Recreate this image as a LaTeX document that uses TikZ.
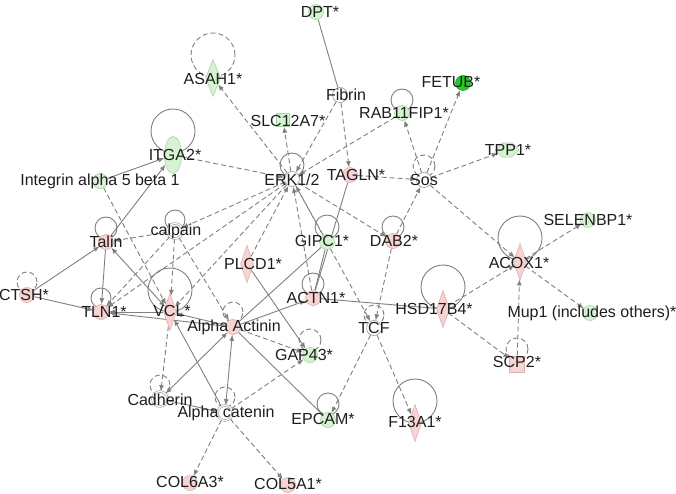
\documentclass[tikz,border=0pt]{standalone}
\usepackage{fontspec}
\setmainfont{Liberation Sans}
\usetikzlibrary{shapes.geometric,shapes.symbols,arrows.meta,backgrounds}
\definecolor{pk}{HTML}{F7D3D3}
\definecolor{pkd}{HTML}{DFAEAE}
\definecolor{gr}{HTML}{D7F2D3}
\definecolor{grd}{HTML}{AAD6A4}
\definecolor{bgr}{HTML}{22CC22}
\definecolor{ln}{HTML}{808080}
\definecolor{wd}{HTML}{9A9A9A}
\definecolor{tx}{HTML}{1E1E1E}
\newcommand\sloop[4]{\draw[#1] ([yshift=#3]#2.center) circle[radius=#4];}
\begin{document}
\begin{tikzpicture}[x=1pt,y=-1pt,
  every node/.style={inner sep=0pt},
  lab/.style={font=\fontsize{16}{18}\selectfont, text=tx},
  cnode/.style={circle, minimum size=15pt, line width=0.6pt},
  pkc/.style={cnode, fill=pk, draw=pkd},
  grc/.style={cnode, fill=gr, draw=grd},
  whc/.style={cnode, fill=white, draw=wd},
  whd/.style={cnode, fill=white, draw=wd, double=white, double distance=1.2pt},
  pkdia/.style={diamond, minimum width=13pt, minimum height=37pt, fill=pk, draw=pkd, line width=0.6pt},
  grdia/.style={diamond, minimum width=15pt, minimum height=37pt, fill=gr, draw=grd, line width=0.6pt},
  sol/.style={draw=ln, line width=0.9pt},
  dsh/.style={draw=ln, line width=0.9pt, dash pattern=on 5pt off 3pt},
  arr/.style={-{Latex[length=6pt,width=5pt]}},
  barr/.style={{Latex[length=6pt,width=5pt]}-{Latex[length=6pt,width=5pt]}}
]
\useasboundingbox (0,0) rectangle (676,494);

% ---- shapes ----
\node[grc] (dpt) at (316,12) {};
\node[grdia] (asah) at (213,78) {};
\node[whc] (fibrin) at (340,95) {};
\node[cnode, fill=bgr, draw=bgr!80!black] (fetub) at (463,83) {};
\node[grc] (rab) at (402,113) {};
\node[rectangle, minimum size=13pt, fill=gr, draw=grd, line width=0.6pt] (slc) at (283,120) {};
\node[signal, signal to=east and west, minimum width=24pt, minimum height=14pt, fill=gr, draw=grd, line width=0.6pt] (tpp) at (507,150) {};
\node[ellipse, minimum width=17pt, minimum height=37pt, fill=gr, draw=grd, line width=0.6pt] (itga) at (173,155) {};
\node[grc] (integ) at (100,181) {};
\node[whc] (erk) at (292,179) {};
\node[pkc] (tagln) at (350,175) {};
\node[whc] (sos) at (424,180) {};
\node[whd] (calpain) at (175,231) {};
\node[pkc] (talin) at (106,242) {};
\node[grc] (gipc) at (327,242) {};
\node[pkc] (dab) at (393,241) {};
\node[pkdia] (plcd) at (247,264) {};
\node[pkdia] (acox) at (520,262) {};
\node[grc] (selen) at (588,220) {};
\node[pkc] (ctsh) at (27,295) {};
\node[pkc] (tln) at (101,312) {};
\node[pkdia] (vcl) at (170,312) {};
\node[pkc] (actn) at (313,298) {};
\node[pkc] (aact) at (233,327) {};
\node[pkdia] (hsd) at (443,309) {};
\node[grc] (mup) at (590,313) {};
\node[whc] (tcf) at (374,328) {};
\node[grc] (gap) at (310,355) {};
\node[rectangle, minimum width=15pt, minimum height=16pt, fill=pk, draw=pkd, line width=0.6pt] (scp) at (517,364) {};
\node[whd] (cadh) at (160,399) {};
\node[whd] (acat) at (225,413) {};
\node[grc] (epcam) at (328,420) {};
\node[pkdia] (f13) at (415,423) {};
\node[pkc] (col6) at (190,483) {};
\node[pkc] (col5) at (288,485) {};

% ---- connectors and self loops ----
\begin{scope}[on background layer]
\fill[white] (0,0) rectangle (676,494);
% solid
\draw[sol] (dpt) -- (fibrin);
\draw[sol,arr] (integ) -- (itga);
\draw[sol,arr] (talin) -- (itga);
\draw[sol,arr] (ctsh) -- (talin);
\draw[sol,arr] (ctsh) -- (tln);
\draw[sol,arr] (talin) -- (tln);
\draw[sol,barr] (talin) -- (vcl);
\draw[sol,arr] (vcl) -- (tln);
\draw[sol,arr] (aact) -- (tln);
\draw[sol,arr] (aact) -- (vcl);
\draw[sol] (aact) -- (gipc);
\draw[sol,arr] (aact) -- (actn);
\draw[sol] (gipc) -- (actn);
\draw[sol] (tagln) -- (actn);
\draw[sol,arr] (plcd) -- (gap);
\draw[sol] (aact) -- (epcam);
\draw[sol,barr] (aact) -- (acat);
\draw[sol,barr] (aact) -- (cadh);
\draw[sol,arr] (acat) -- (vcl);
\draw[sol,arr] (cadh) -- (acat);
\draw[sol] (actn) -- (hsd);
% dashed
\draw[dsh,arr] (fibrin) -- (erk);
\draw[dsh,arr] (fibrin) -- (tagln);
\draw[dsh,arr] (erk) -- (asah);
\draw[dsh,arr] (erk) -- (slc);
\draw[dsh,arr] (itga) -- (erk);
\draw[dsh,arr] (rab) -- (erk);
\draw[dsh,arr] (tagln) -- (sos);
\draw[dsh,arr] (sos) -- (rab);
\draw[dsh,arr] (sos) -- (fetub);
\draw[dsh,arr] (sos) -- (tpp);
\draw[dsh,arr] (dab) -- (sos);
\draw[dsh,arr] (sos) -- (acox);
\draw[dsh,arr] (erk) -- (dab);
\draw[dsh,arr] (erk) -- (calpain);
\draw[dsh,arr] (erk) -- (tln);
\draw[dsh,arr] (erk) -- (vcl);
\draw[dsh,arr] (plcd) -- (erk);
\draw[dsh,arr] (actn) -- (erk);
\draw[dsh,arr] (gipc) -- (erk);
\draw[dsh,arr] (erk) -- (tcf);
\draw[dsh,arr] (dab) -- (tcf);
\draw[dsh,arr] (tcf) -- (epcam);
\draw[dsh,arr] (tcf) -- (f13);
\draw[dsh,arr] (hsd) -- (acox);
\draw[dsh,arr] (hsd) -- (scp);
\draw[dsh,arr] (scp) -- (acox);
\draw[dsh,arr] (acox) -- (selen);
\draw[dsh,arr] (acox) -- (mup);
\draw[dsh,arr] (acat) -- (col6);
\draw[dsh,arr] (acat) -- (col5);
\draw[dsh,arr] (acat) -- (gap);
\draw[dsh,arr] (aact) -- (gap);
\draw[dsh,arr] (vcl) -- (cadh);
\draw[dsh,arr] (integ) -- (vcl);
\draw[dsh,arr] (calpain) -- (talin);
\draw[dsh,arr] (calpain) -- (tln);
\draw[dsh,arr] (calpain) -- (vcl);
\draw[dsh,arr] (calpain) -- (aact);
% self loops
\sloop{sol}{itga}{24pt}{22pt}
\sloop{sol}{vcl}{22pt}{22pt}
\sloop{sol}{acox}{24pt}{22pt}
\sloop{sol}{hsd}{22pt}{22pt}
\sloop{sol}{f13}{22pt}{22pt}
\sloop{dsh}{asah}{23pt}{22pt}
\sloop{sol}{rab}{13pt}{11pt}
\sloop{sol}{erk}{14pt}{12pt}
\sloop{sol}{calpain}{11pt}{10pt}
\sloop{sol}{talin}{14pt}{11pt}
\sloop{sol}{tln}{14pt}{10pt}
\sloop{sol}{gipc}{15pt}{12pt}
\sloop{sol}{dab}{14pt}{11pt}
\sloop{sol}{actn}{14pt}{11pt}
\sloop{sol}{epcam}{16pt}{11pt}
\sloop{dsh}{sos}{14pt}{11pt}
\sloop{dsh}{ctsh}{13pt}{10pt}
\sloop{dsh}{aact}{15pt}{10pt}
\sloop{dsh}{tcf}{13pt}{10pt}
\sloop{dsh}{gap}{15pt}{11pt}
\sloop{dsh}{scp}{15pt}{11pt}
\sloop{dsh}{cadh}{14pt}{10pt}
\sloop{dsh}{acat}{16pt}{10pt}
\end{scope}

% ---- labels ----
\node[lab] (dptL) at (320,12) {DPT*};
\node[lab] (asahL) at (213,79) {ASAH1*};
\node[lab] (fibrinL) at (346,95) {Fibrin};
\node[lab] (fetubL) at (451,82) {FETUB*};
\node[lab] (rabL) at (404,113) {RAB11FIP1*};
\node[lab] (slcL) at (288,121) {SLC12A7*};
\node[lab] (tppL) at (508,150) {TPP1*};
\node[lab] (itgaL) at (175,155) {ITGA2*};
\node[lab] (integL) at (100,181) {Integrin alpha 5 beta 1};
\node[lab] (erkL) at (292,180) {ERK1/2};
\node[lab] (taglnL) at (356,175) {TAGLN*};
\node[lab] (sosL) at (424,180) {Sos};
\node[lab] (calpainL) at (176,231) {calpain};
\node[lab] (talinL) at (106,242) {Talin};
\node[lab] (gipcL) at (322,241) {GIPC1*};
\node[lab] (dabL) at (394,241) {DAB2*};
\node[lab] (plcdL) at (253,264) {PLCD1*};
\node[lab] (acoxL) at (519,263) {ACOX1*};
\node[lab] (selenL) at (588,220) {SELENBP1*};
\node[lab] (ctshL) at (24,295) {CTSH*};
\node[lab] (tlnL) at (104,312) {TLN1*};
\node[lab] (vclL) at (172,311) {VCL*};
\node[lab] (actnL) at (316,298) {ACTN1*};
\node[lab] (aactL) at (234,327) {Alpha Actinin};
\node[lab] (hsdL) at (434,309) {HSD17B4*};
\node[lab] (mupL) at (592,313) {Mup1 (includes others)*};
\node[lab] (tcfL) at (374,328) {TCF};
\node[lab] (gapL) at (304,355) {GAP43*};
\node[lab] (scpL) at (517,362) {SCP2*};
\node[lab] (cadhL) at (160,400) {Cadherin};
\node[lab] (acatL) at (226,413) {Alpha catenin};
\node[lab] (epcamL) at (323,419) {EPCAM*};
\node[lab] (f13L) at (415,422) {F13A1*};
\node[lab] (col6L) at (190,482) {COL6A3*};
\node[lab] (col5L) at (288,484) {COL5A1*};
\end{tikzpicture}
\end{document}
